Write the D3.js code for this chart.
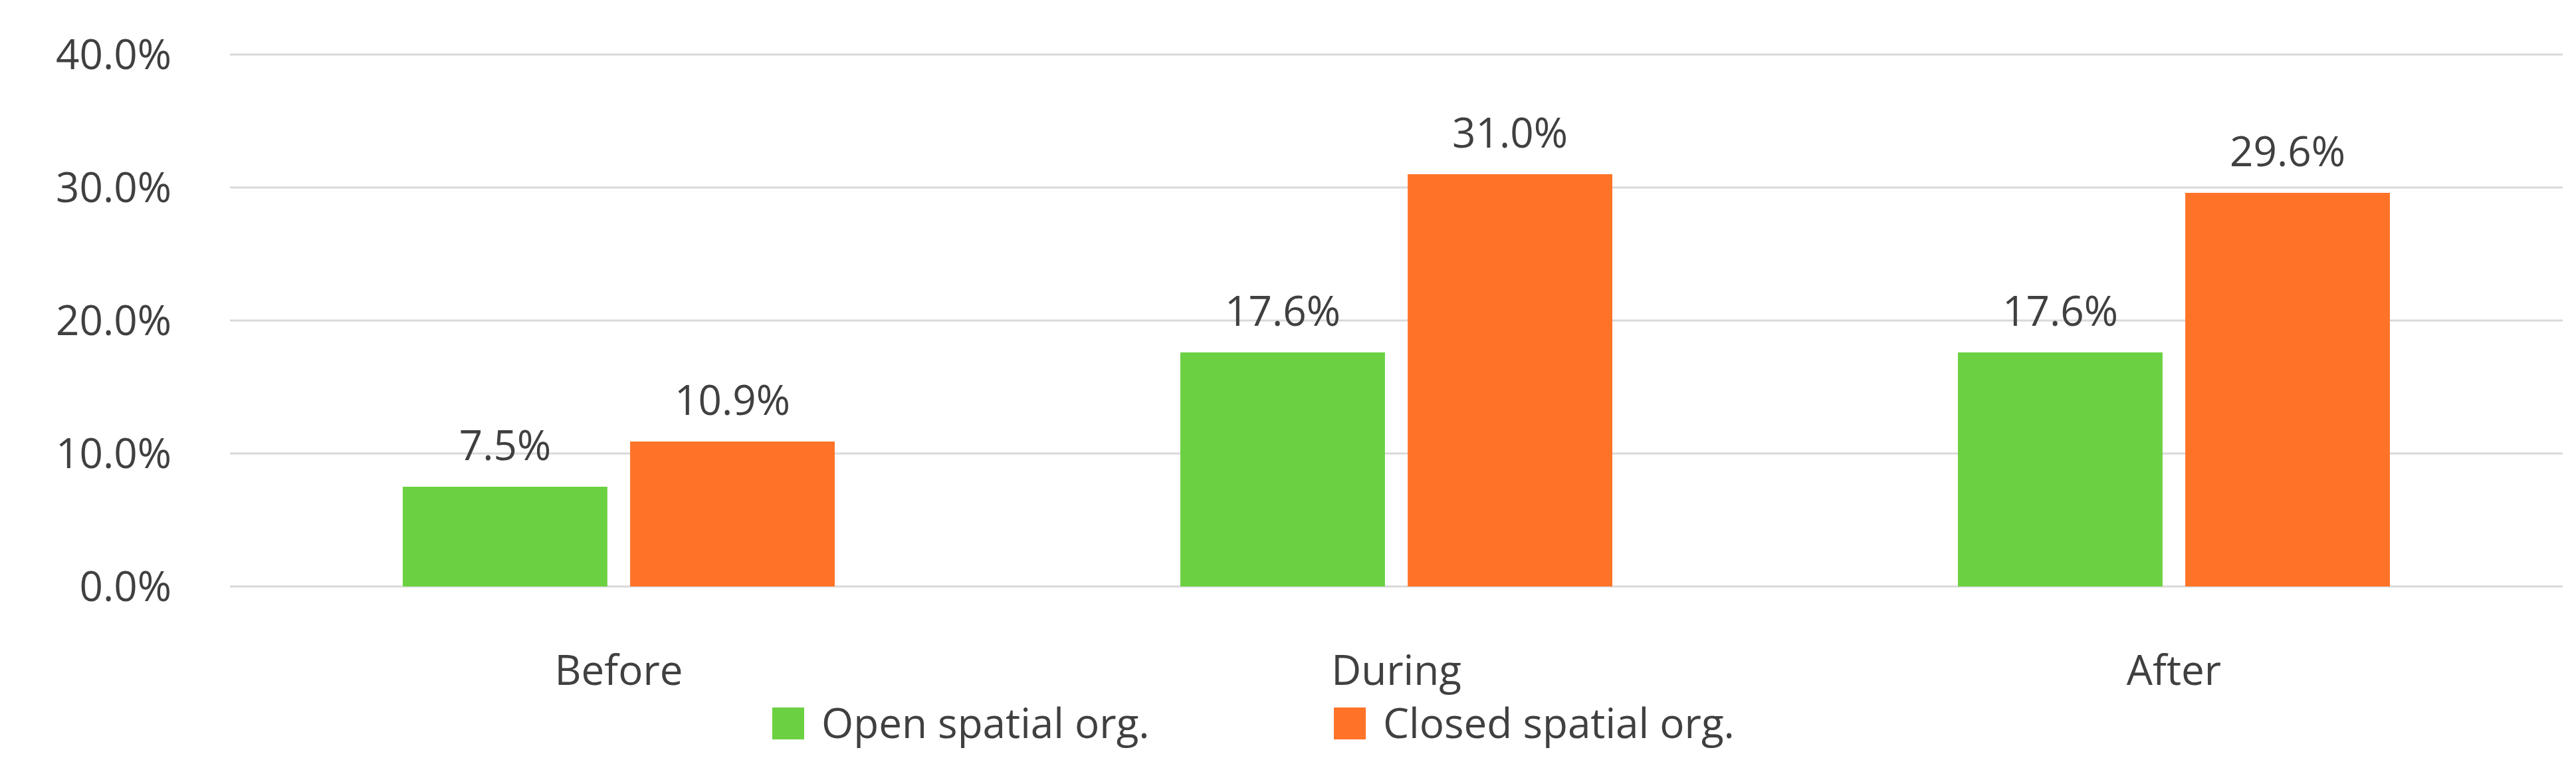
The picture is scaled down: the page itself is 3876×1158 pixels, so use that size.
<!DOCTYPE html>
<html><head><meta charset="utf-8">
<script src="https://cdn.jsdelivr.net/npm/d3@7"></script>
<style>body{margin:0;background:#fff}text{font-family:"Open Sans",sans-serif;fill:#404040}</style>
</head><body><div id="chart"></div>
<script>
var categories = ['Before', 'During', 'After'];
var seriesNames = ['Open spatial org.', 'Closed spatial org.'];
var openVals = [7.5, 17.6, 17.6];
var closedVals = [10.9, 31.0, 29.6];
var yTicks = [0, 10, 20, 30, 40];
var colors = ['#6BD142', '#FF7328'];

var width = 3876, height = 1158;
var margin = {top: 82, right: 20, bottom: 276, left: 346};

var svg = d3.select('#chart').append('svg')
    .attr('width', width).attr('height', height);

var x = d3.scaleBand().domain(categories)
    .range([margin.left, width - margin.right]);
var x1 = d3.scaleBand().domain([0, 1]).range([0, 650]).paddingInner(0.1);
var y = d3.scaleLinear().domain([0, 40]).range([height - margin.bottom, margin.top]);

// Gridlines
svg.selectAll('.grid').data(yTicks).enter().append('line')
    .attr('x1', margin.left).attr('x2', width - margin.right)
    .attr('y1', function(d) { return y(d); }).attr('y2', function(d) { return y(d); })
    .attr('stroke', '#d9d9d9').attr('stroke-width', 3);

// Y labels
svg.selectAll('.ytick').data(yTicks).enter().append('text')
    .attr('x', 258).attr('y', function(d) { return y(d) + 22; })
    .attr('text-anchor', 'end').attr('font-size', 62)
    .text(function(d) { return d.toFixed(1) + '%'; });

var series = [openVals, closedVals];
series.forEach(function(vals, s) {
  var g = svg.append('g');
  g.selectAll('rect').data(vals).enter().append('rect')
    .attr('x', function(d, i) { return x(categories[i]) + x.bandwidth() / 2 - 325 + x1(s); })
    .attr('width', x1.bandwidth())
    .attr('y', function(d) { return y(d); })
    .attr('height', function(d) { return y(0) - y(d); })
    .attr('fill', colors[s]);
  g.selectAll('text').data(vals).enter().append('text')
    .attr('x', function(d, i) { return x(categories[i]) + x.bandwidth() / 2 - 325 + x1(s) + x1.bandwidth() / 2; })
    .attr('y', function(d) { return y(d) - 40; })
    .attr('text-anchor', 'middle').attr('font-size', 62)
    .text(function(d) { return d.toFixed(1) + '%'; });
});

// Category labels
svg.selectAll('.cat').data(categories).enter().append('text')
    .attr('x', function(d) { return x(d) + x.bandwidth() / 2; })
    .attr('y', 1030).attr('text-anchor', 'middle').attr('font-size', 62)
    .text(function(d) { return d; });

// Legend
var legX = [1162, 2007];
seriesNames.forEach(function(n, i) {
  svg.append('rect').attr('x', legX[i]).attr('y', 1064).attr('width', 48).attr('height', 48).attr('fill', colors[i]);
  svg.append('text').attr('x', legX[i] + 74).attr('y', 1110).attr('font-size', 62).text(n);
});
</script></body></html>
